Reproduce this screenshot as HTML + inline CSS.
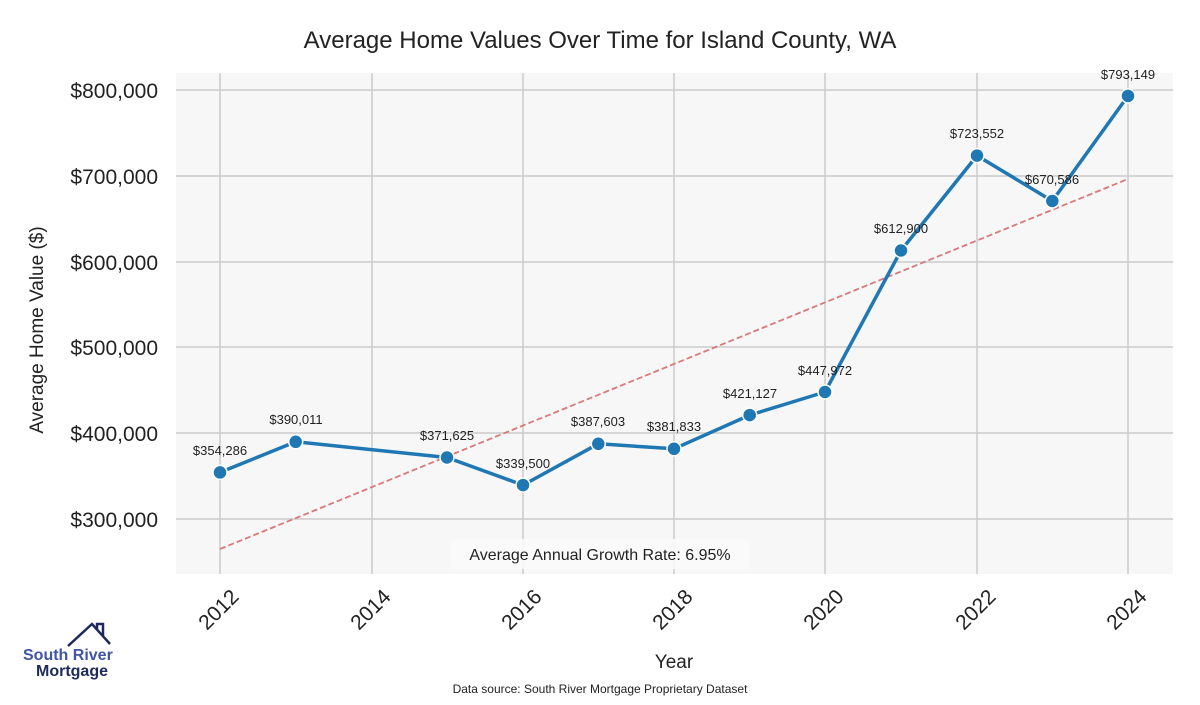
<!DOCTYPE html>
<html><head><meta charset="utf-8"><style>
body{margin:0;background:#fff;}
svg text{font-family:"Liberation Sans",sans-serif;}
</style></head><body>
<svg width="1200" height="700" xmlns="http://www.w3.org/2000/svg">
<rect x="0" y="0" width="1200" height="700" fill="#fff"/>
<rect x="176" y="73" width="997" height="501" fill="#f7f7f7"/>
<g stroke="#cccccc" stroke-width="1.5">
<line x1="220" y1="73" x2="220" y2="574"/><line x1="372" y1="73" x2="372" y2="574"/>
<line x1="523" y1="73" x2="523" y2="574"/><line x1="674" y1="73" x2="674" y2="574"/>
<line x1="825" y1="73" x2="825" y2="574"/><line x1="977" y1="73" x2="977" y2="574"/>
<line x1="1128" y1="73" x2="1128" y2="574"/>
<line x1="176" y1="90" x2="1173" y2="90"/><line x1="176" y1="176" x2="1173" y2="176"/>
<line x1="176" y1="262" x2="1173" y2="262"/><line x1="176" y1="347" x2="1173" y2="347"/>
<line x1="176" y1="433" x2="1173" y2="433"/><line x1="176" y1="519" x2="1173" y2="519"/>
</g>
<text x="600" y="48" text-anchor="middle" font-size="24" fill="#222">Average Home Values Over Time for Island County, WA</text>
<g font-size="21" fill="#222" text-anchor="end">
<text x="158" y="98">$800,000</text><text x="158" y="184">$700,000</text>
<text x="158" y="270">$600,000</text><text x="158" y="355">$500,000</text>
<text x="158" y="441">$400,000</text><text x="158" y="527">$300,000</text>
</g>
<text transform="translate(43,330) rotate(-90)" text-anchor="middle" font-size="19" fill="#222">Average Home Value ($)</text>
<g font-size="21" fill="#222" text-anchor="end">
<text transform="translate(240,598) rotate(-45)">2012</text>
<text transform="translate(392,598) rotate(-45)">2014</text>
<text transform="translate(543,598) rotate(-45)">2016</text>
<text transform="translate(694,598) rotate(-45)">2018</text>
<text transform="translate(845,598) rotate(-45)">2020</text>
<text transform="translate(997,598) rotate(-45)">2022</text>
<text transform="translate(1148,598) rotate(-45)">2024</text>
</g>
<text x="674" y="668" text-anchor="middle" font-size="19" fill="#222">Year</text>
<text x="600" y="693" text-anchor="middle" font-size="12" fill="#222">Data source: South River Mortgage Proprietary Dataset</text>
<line x1="220" y1="549" x2="1128" y2="179" stroke="#d9797a" stroke-width="1.8" stroke-dasharray="6,3"/>
<polyline fill="none" stroke="#1f77b4" stroke-width="3.5" stroke-linejoin="round" points="220,472.4 295.7,441.8 447,457.5 523,485.1 598.3,443.8 674,448.8 749.7,415.1 825,392 901,250.5 977,155.6 1052.3,201 1128,95.9"/>
<g fill="#1f77b4" stroke="#fff" stroke-width="1.5">
<circle cx="220" cy="472.4" r="7"/><circle cx="295.7" cy="441.8" r="7"/><circle cx="447" cy="457.5" r="7"/>
<circle cx="523" cy="485.1" r="7"/><circle cx="598.3" cy="443.8" r="7"/><circle cx="674" cy="448.8" r="7"/>
<circle cx="749.7" cy="415.1" r="7"/><circle cx="825" cy="392" r="7"/><circle cx="901" cy="250.5" r="7"/>
<circle cx="977" cy="155.6" r="7"/><circle cx="1052.3" cy="201" r="7"/><circle cx="1128" cy="95.9" r="7"/>
</g>
<g font-size="13" fill="#222" text-anchor="middle">
<text x="220" y="455">$354,286</text><text x="296" y="424">$390,011</text><text x="447" y="440">$371,625</text>
<text x="523" y="468">$339,500</text><text x="598" y="426">$387,603</text><text x="674" y="431">$381,833</text>
<text x="750" y="398">$421,127</text><text x="825" y="375">$447,972</text><text x="901" y="233">$612,900</text>
<text x="977" y="138">$723,552</text><text x="1052" y="184">$670,586</text><text x="1128" y="79">$793,149</text>
</g>
<rect x="450" y="539" width="300" height="30" rx="6" fill="#fafafa" opacity="0.9"/>
<text x="600" y="560" text-anchor="middle" font-size="16" fill="#222">Average Annual Growth Rate: 6.95%</text>
<polyline points="68,646 92,624 110,644" fill="none" stroke="#1f2a5c" stroke-width="2.5"/>
<polyline points="97,630 97,624 103,624 103,636" fill="none" stroke="#1f2a5c" stroke-width="2.5"/>
<text x="23" y="660" font-size="16" font-weight="bold" fill="#3f55a5">South River</text>
<text x="36" y="676" font-size="16" font-weight="bold" fill="#1f2a5c">Mortgage</text>
</svg>
</body></html>
